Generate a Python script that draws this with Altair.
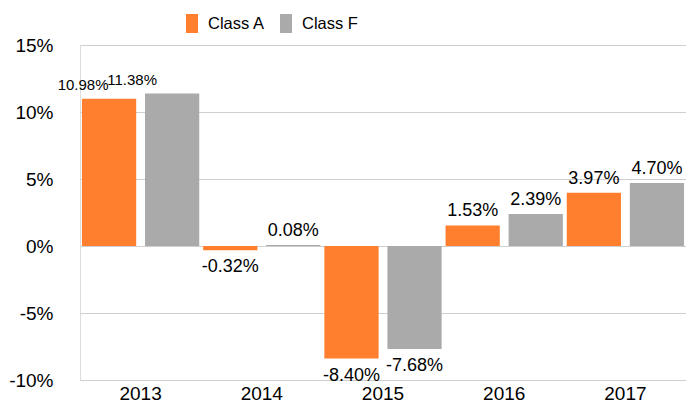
import altair as alt
import pandas as pd

years = ["2013", "2014", "2015", "2016", "2017"]
class_a = [10.98, -0.32, -8.40, 1.53, 3.97]
class_f = [11.38, 0.08, -7.68, 2.39, 4.70]
series_names = ["Class A", "Class F"]
colors = ["#FF7F2F", "#AAAAAA"]
y_ticks = [-10, -5, 0, 5, 10, 15]

rows = []
for i, y in enumerate(years):
    rows.append({"year": y, "series": series_names[0], "value": class_a[i]})
    rows.append({"year": y, "series": series_names[1], "value": class_f[i]})
df = pd.DataFrame(rows)

FONT = "Liberation Sans"

x_enc = alt.X("year:N", sort=years, title=None,
              scale=alt.Scale(paddingInner=0, paddingOuter=0),
              axis=alt.Axis(labelAngle=0, ticks=False, tickSize=0, domain=False,
                            labelFontSize=19, labelPadding=4, labelColor="#000",
                            labelFont=FONT, grid=False))
xo_enc = alt.XOffset("series:N", sort=series_names,
                     scale=alt.Scale(paddingInner=0.14, paddingOuter=0.031))
y_scale = alt.Scale(domain=[-10, 15], nice=False, zero=False)

base = alt.Chart(df).encode(x=x_enc, xOffset=xo_enc)

bars = base.mark_bar(cornerRadius=0).encode(
    y=alt.Y("value:Q", scale=y_scale, title=None,
            axis=alt.Axis(values=y_ticks, labelExpr="datum.value + '%'",
                          ticks=False, tickSize=0, domain=False, grid=True,
                          gridColor="#CFCFCF", gridWidth=1.2,
                          labelFontSize=19, labelPadding=27, labelColor="#000",
                          labelFont=FONT)),
    color=alt.Color("series:N", sort=series_names,
                    scale=alt.Scale(domain=series_names, range=colors),
                    legend=alt.Legend(title=None, orient="none", direction="horizontal",
                                      legendX=102.5, legendY=-31,
                                      symbolType="M-0.63,-1H0.63V1H-0.63Z",
                                      symbolSize=361, symbolStrokeWidth=0,
                                      symbolOpacity=1,
                                      labelFontSize=16.5, labelFont=FONT,
                                      labelColor="#000", labelOffset=6.5,
                                      columnPadding=11)),
)

label_base = base.transform_calculate(
    label="replace(format(datum.value, '.2f'), '\u2212', '-') + '%'"
)
y_lab = alt.Y("value:Q", scale=y_scale)

pos_other = label_base.transform_filter(
    "datum.value >= 0 && datum.year != '2013'"
).mark_text(baseline="alphabetic", dy=-9, fontSize=18, font=FONT, color="#000").encode(
    y=y_lab, text="label:N")
pos_2013a = label_base.transform_filter(
    "datum.year == '2013' && datum.series == 'Class A'"
).mark_text(baseline="alphabetic", dy=-9, dx=-26, fontSize=15, font=FONT, color="#000").encode(
    y=y_lab, text="label:N")
pos_2013f = label_base.transform_filter(
    "datum.year == '2013' && datum.series == 'Class F'"
).mark_text(baseline="alphabetic", dy=-9, dx=-40, fontSize=15, font=FONT, color="#000").encode(
    y=y_lab, text="label:N")
neg = label_base.transform_filter("datum.value < 0").mark_text(
    baseline="alphabetic", dy=22, fontSize=18, font=FONT, color="#000").encode(
    y=y_lab, text="label:N")

chart = alt.layer(bars, pos_other, pos_2013a, pos_2013f, neg).properties(
    width=606, height=335, autosize="none",
    padding={"left": 72, "top": 37, "right": 0, "bottom": 26},
).configure_view(stroke=None).configure(background="white")

chart.save("out.html", embed_options={"renderer": "svg", "actions": False})
